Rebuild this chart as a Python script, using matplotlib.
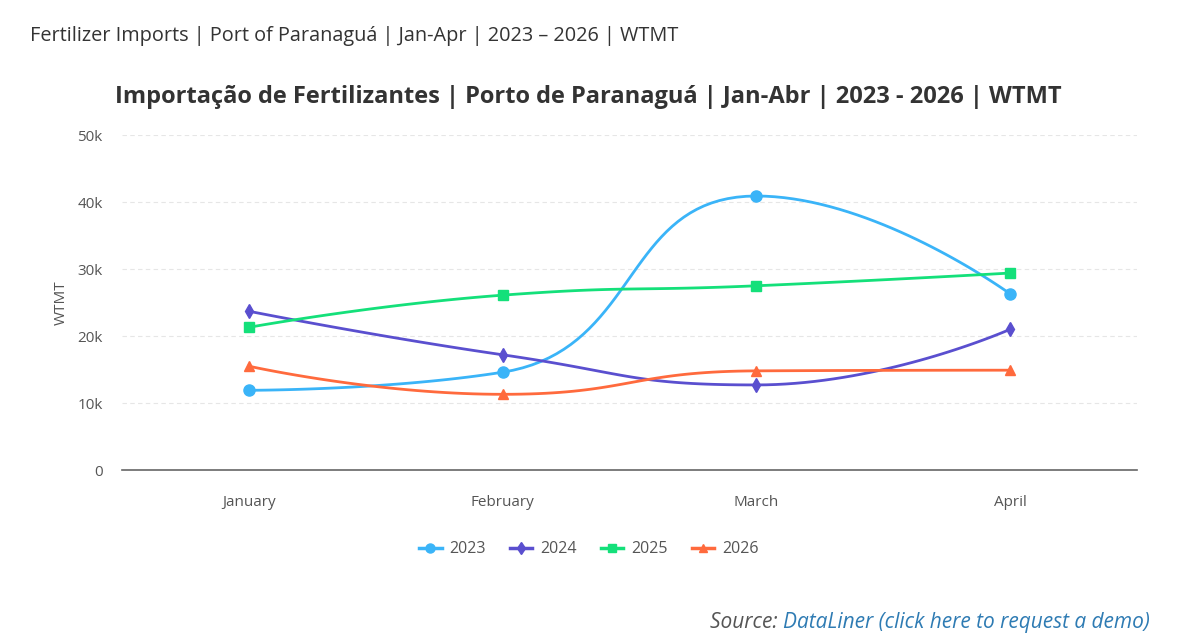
import matplotlib.pyplot as plt
import numpy as np

months = ['January', 'February', 'March', 'April']
years = ['2023', '2024', '2025', '2026']
v2023 = [11900, 14600, 40900, 26300]
v2024 = [23700, 17200, 12700, 21000]
v2025 = [21300, 26100, 27500, 29400]
v2026 = [15500, 11300, 14800, 14900]
series = [v2023, v2024, v2025, v2026]

colors = ['#3ab4f8', '#5a4fcf', '#14e07a', '#ff6a3d']
markers = ['o', 'd', 's', '^']
msizes = [8, 7.5, 7.5, 7.5]

plt.rcParams['font.family'] = ['Open Sans', 'DejaVu Sans']


def smooth_path(xs, ys, sx, sy, smooth=0.5):
    # echarts style bezier smoothing, done in pixel-like units
    px = np.array(xs, float) * sx
    py = np.array(ys, float) * sy
    n = len(px)
    nxt_cp = [None] * n
    prv_cp = [None] * n
    for i in range(n):
        x, y = px[i], py[i]
        if i == 0 or i == n - 1:
            nxt_cp[i] = (x, y)
            prv_cp[i] = (x, y)
            continue
        x0, y0 = px[i - 1], py[i - 1]
        x1, y1 = px[i + 1], py[i + 1]
        vx, vy = x1 - x0, y1 - y0
        lp = np.hypot(x - x0, y - y0)
        ln = np.hypot(x1 - x, y1 - y)
        r = ln / (ln + lp)
        cx = x + vx * smooth * r
        cy = y + vy * smooth * r
        cx = min(max(cx, min(x1, x)), max(x1, x))
        cy = min(max(cy, min(y1, y)), max(y1, y))
        vx, vy = cx - x, cy - y
        bx = x - vx * lp / ln
        by = y - vy * lp / ln
        bx = min(max(bx, min(x0, x)), max(x0, x))
        by = min(max(by, min(y0, y)), max(y0, y))
        vx, vy = x - bx, y - by
        cx = x + vx * ln / lp
        cy = y + vy * ln / lp
        nxt_cp[i] = (cx, cy)
        prv_cp[i] = (bx, by)
    t = np.linspace(0, 1, 40)[:, None]
    out = []
    for i in range(n - 1):
        p0 = np.array([px[i], py[i]])
        p1 = np.array(nxt_cp[i])
        p2 = np.array(prv_cp[i + 1])
        p3 = np.array([px[i + 1], py[i + 1]])
        b = ((1 - t) ** 3) * p0 + 3 * ((1 - t) ** 2) * t * p1 + 3 * (1 - t) * t ** 2 * p2 + t ** 3 * p3
        out.append(b)
    pts = np.vstack(out)
    return pts[:, 0] / sx, pts[:, 1] / sy


fig = plt.figure(figsize=(11.87, 6.4), dpi=100)
ax = fig.add_axes([0.1028, 0.2656, 0.855, 0.5234])

x = np.arange(len(months))
for vals, c, m, ms, lab in zip(series, colors, markers, msizes, years):
    sx_, sy_ = smooth_path(x, vals, 254.0, 67.0 / 10000)
    ax.plot(sx_, sy_, color=c, lw=2, zorder=3)
    ax.plot(x, vals, linestyle='none', marker=m, color=c, markersize=ms, zorder=4)
    ax.plot([], [], color=c, lw=2.5, marker=m, markersize=ms - 1.5, label=lab)

ax.set_xlim(-0.5, 3.5)
ax.set_ylim(0, 50000)
ax.set_xticks(x)
ax.set_xticklabels(months)
ax.set_yticks([0, 10000, 20000, 30000, 40000, 50000])
ax.set_yticklabels(['0', '10k', '20k', '30k', '40k', '50k'])
ax.tick_params(length=0, labelsize=11, colors='#555555')
ax.tick_params(axis='x', pad=18)
ax.tick_params(axis='y', pad=14)
ax.yaxis.grid(True, linestyle=(0, (4, 3)), color='#e6e6e6', lw=0.8)
for s in ['top', 'right', 'left']:
    ax.spines[s].set_visible(False)
ax.spines['bottom'].set_color('#666666')
ax.spines['bottom'].set_linewidth(1.2)
ax.set_ylabel('WTMT', color='#555555', fontsize=11, labelpad=6)

leg = ax.legend(loc='upper center', bbox_to_anchor=(0.46, -0.17), ncol=4, frameon=False,
                fontsize=11.5, handlelength=1.4, columnspacing=1.5, handletextpad=0.5)
for t in leg.get_texts():
    t.set_color('#555555')

fig.text(0.025, 0.944, 'Fertilizer Imports | Port of Paranaguá | Jan-Apr | 2023 – 2026 | WTMT',
         fontsize=14.3, color='#333333', va='center', ha='left')
fig.text(0.496, 0.848, 'Importação de Fertilizantes | Porto de Paranaguá | Jan-Abr | 2023 - 2026 | WTMT',
         fontsize=17, fontweight='bold', color='#333333', va='center', ha='center')

src = fig.text(0.969, 0.028, 'DataLiner (click here to request a demo)', fontsize=15,
               style='italic', color='#2e7bb3', ha='right', va='center')
fig.canvas.draw()
bb = src.get_window_extent()
fig.text(bb.x0 / fig.bbox.width, 0.028, 'Source: ', fontsize=15, style='italic',
         color='#555555', ha='right', va='center')

fig.savefig('out.png', dpi=100, facecolor='white')
